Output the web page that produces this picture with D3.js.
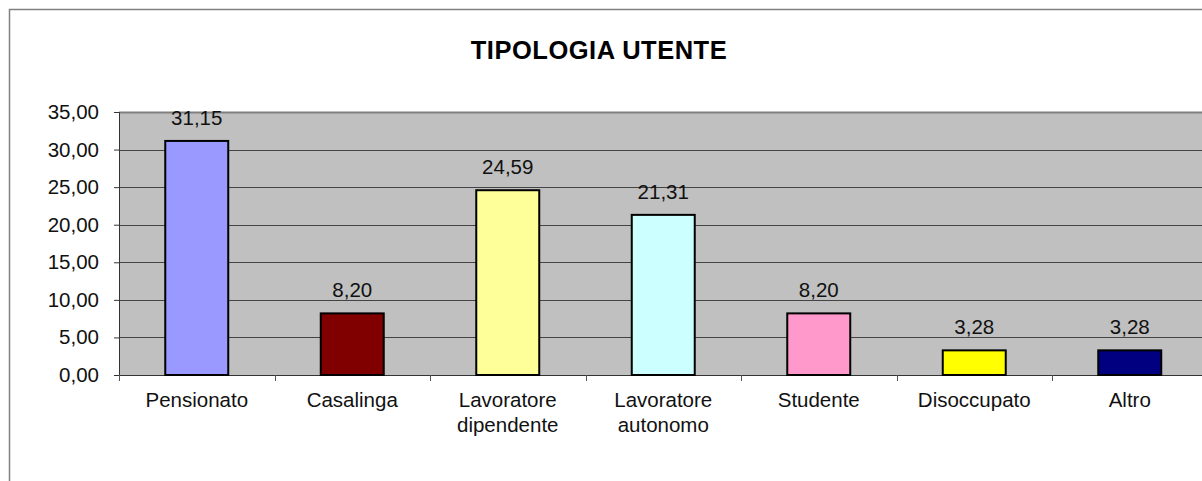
<!DOCTYPE html>
<meta charset="utf-8">
<style>
body { margin: 0; background: #fff; }
svg { display: block; font-family: "Liberation Sans", Arial, sans-serif; }
.bar { stroke: black; stroke-width: 2; }
</style>
<body>
<script src="https://cdn.jsdelivr.net/npm/d3@7"></script>
<script>

// data
var categories = ["Pensionato", "Casalinga", "Lavoratore dipendente", "Lavoratore autonomo", "Studente", "Disoccupato", "Altro"];
var labelLines = [["Pensionato"], ["Casalinga"], ["Lavoratore", "dipendente"], ["Lavoratore", "autonomo"], ["Studente"], ["Disoccupato"], ["Altro"]];
var values = [31.15, 8.20, 24.59, 21.31, 8.20, 3.28, 3.28];
var colors = ["#9999ff", "#800000", "#ffff99", "#ccffff", "#ff99cc", "#ffff00", "#000080"];
var yTicks = [0, 5, 10, 15, 20, 25, 30, 35];

var W = 1202, H = 481;
var plotLeft = 119, plotTop = 112, plotBottom = 375, step = 155.5;

var fmt = function(v) { return v.toFixed(2).replace(".", ","); };

var svg = d3.select("body").append("svg")
    .attr("width", W)
    .attr("height", H);

// outer chart border (cut off at right/bottom like the original)
svg.append("rect")
    .attr("x", 9.5).attr("y", 9.5)
    .attr("width", W + 20).attr("height", H + 20)
    .attr("fill", "white")
    .attr("stroke", "#808080")
    .attr("stroke-width", 1.5);

// title
svg.append("text")
    .attr("x", 599).attr("y", 59)
    .attr("text-anchor", "middle")
    .style("font-weight", "bold")
    .style("font-size", "25.5px")
    .style("letter-spacing", "0.5px")
    .text("TIPOLOGIA UTENTE");

var x = d3.scaleBand()
    .domain(categories)
    .range([plotLeft, plotLeft + step * 7])
    .paddingInner(0.595)
    .paddingOuter(0.2975);

var y = d3.scaleLinear()
    .domain([0, 35])
    .range([plotBottom, plotTop]);

// plot area
svg.append("rect")
    .attr("x", plotLeft).attr("y", plotTop)
    .attr("width", W - plotLeft + 10).attr("height", plotBottom - plotTop)
    .attr("fill", "#c0c0c0");

// gridlines
svg.append("g").selectAll("line")
    .data(yTicks.slice(1))
    .enter().append("line")
    .attr("x1", plotLeft).attr("x2", W)
    .attr("y1", function(d) { return Math.round(y(d)) + 0.5; })
    .attr("y2", function(d) { return Math.round(y(d)) + 0.5; })
    .attr("stroke", function(d) { return d === 35 ? "#808080" : "#444"; })
    .attr("stroke-width", function(d) { return d === 35 ? 2 : 1; });

// y axis
var yAxis = svg.append("g")
    .attr("transform", "translate(" + plotLeft + ",0)")
    .call(d3.axisLeft(y).tickValues(yTicks).tickFormat(fmt).tickSize(5).tickPadding(15));
yAxis.select(".domain").attr("stroke", "#333");
yAxis.selectAll(".tick line").attr("stroke", "#333");
yAxis.selectAll("text").style("font-size", "20.5px").attr("fill", "#111");

// x axis line and ticks at category boundaries
svg.append("line")
    .attr("x1", plotLeft).attr("x2", W)
    .attr("y1", plotBottom + 0.5).attr("y2", plotBottom + 0.5)
    .attr("stroke", "#333");
svg.append("g").selectAll("line")
    .data(d3.range(8))
    .enter().append("line")
    .attr("x1", function(i) { return Math.round(plotLeft + i * step) + 0.5; })
    .attr("x2", function(i) { return Math.round(plotLeft + i * step) + 0.5; })
    .attr("y1", plotBottom).attr("y2", plotBottom + 6)
    .attr("stroke", "#555");

// bars
svg.selectAll(".bar")
    .data(values)
    .enter().append("rect")
    .attr("class", "bar")
    .attr("x", function(d, i) { return x(categories[i]); })
    .attr("width", x.bandwidth())
    .attr("y", function(d) { return y(d); })
    .attr("height", function(d) { return plotBottom - y(d); })
    .style("fill", function(d, i) { return colors[i]; });

// value labels
svg.selectAll(".val")
    .data(values)
    .enter().append("text")
    .attr("class", "val")
    .attr("x", function(d, i) { return x(categories[i]) + x.bandwidth() / 2; })
    .attr("y", function(d) { return y(d) - 16; })
    .attr("text-anchor", "middle")
    .style("font-size", "20.5px")
    .attr("fill", "#111")
    .text(fmt);

// category labels
var cat = svg.selectAll(".cat")
    .data(labelLines)
    .enter().append("text")
    .attr("class", "cat")
    .attr("text-anchor", "middle")
    .style("font-size", "20.5px")
    .attr("fill", "#111");
cat.selectAll("tspan")
    .data(function(d, i) { return d.map(function(s) { return {s: s, i: i}; }); })
    .enter().append("tspan")
    .attr("x", function(d) { return x(categories[d.i]) + x.bandwidth() / 2; })
    .attr("y", function(d, j) { return 407 + j * 25; })
    .text(function(d) { return d.s; });

</script>
</body>
